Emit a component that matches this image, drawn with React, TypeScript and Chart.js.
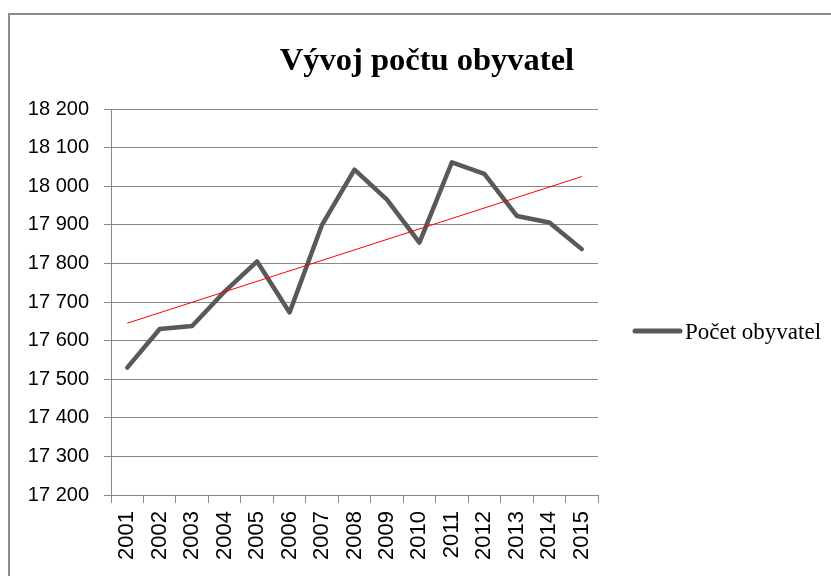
import React, { useEffect, useRef } from "react";
import { Chart, registerables } from "chart.js";

Chart.register(...registerables);

const years = ["2001","2002","2003","2004","2005","2006","2007","2008","2009","2010","2011","2012","2013","2014","2015"];
const population = [17530, 17630, 17638, 17727, 17805, 17673, 17900, 18043, 17965, 17854, 18062, 18032, 17923, 17906, 17837];
const trendEnds = [17645, 18025];
const seriesLabel = "Počet obyvatel";
const chartTitle = "Vývoj počtu obyvatel";
const yMin = 17200;
const yMax = 18200;
const yStep = 100;

const trendData = years.map((_, i) => (i === 0 ? trendEnds[0] : i === years.length - 1 ? trendEnds[1] : null));

const fmt = (v: number) => String(v).replace(/\B(?=(\d{3})+(?!\d))/g, " ");

const LINE = "#595959";
const GRID = "#888888";

const decor = {
  id: "decor",
  beforeDraw(chart: any) {
    const ctx = chart.ctx;
    ctx.save();
    ctx.fillStyle = "#ffffff";
    ctx.fillRect(0, 0, chart.width, chart.height);
    ctx.restore();
  },
  afterDraw(chart: any) {
    const ctx = chart.ctx;
    ctx.save();
    // outer frame
    ctx.strokeStyle = "#8c8c8c";
    ctx.lineWidth = 2;
    ctx.strokeRect(9, 14, 900, 700);
    // title
    ctx.fillStyle = "#000000";
    ctx.font = 'bold 32.5px "Liberation Serif", "Times New Roman", serif';
    ctx.textAlign = "center";
    ctx.textBaseline = "alphabetic";
    ctx.fillText(chartTitle, 427, 70);
    // legend
    const ds = chart.data.datasets[1];
    ctx.strokeStyle = ds.borderColor;
    ctx.lineWidth = 5;
    ctx.lineCap = "round";
    ctx.beginPath();
    ctx.moveTo(635, 331);
    ctx.lineTo(680, 331);
    ctx.stroke();
    ctx.font = '23px "Liberation Serif", "Times New Roman", serif';
    ctx.textAlign = "left";
    ctx.fillText(ds.label, 685, 339);
    ctx.restore();
  },
};

export default function App() {
  const ref = useRef<HTMLCanvasElement>(null);
  useEffect(() => {
    if (!ref.current) return;
    const chart = new Chart(ref.current, {
      type: "line",
      data: {
        labels: years,
        datasets: [
          {
            label: "Lineární (Počet obyvatel)",
            data: trendData,
            borderColor: "#ff0000",
            borderWidth: 1,
            pointRadius: 0,
            spanGaps: true,
            fill: false,
          },
          {
            label: seriesLabel,
            data: population,
            borderColor: LINE,
            borderWidth: 4.5,
            borderJoinStyle: "round",
            borderCapStyle: "round",
            pointRadius: 0,
            tension: 0,
            fill: false,
          },
        ],
      },
      options: {
        responsive: false,
        animation: false,
        layout: { padding: { left: 0, right: 233, top: 109, bottom: 0 } },
        plugins: {
          legend: { display: false },
          title: { display: false },
          tooltip: { enabled: false },
        },
        scales: {
          x: {
            type: "category",
            offset: true,
            afterFit: (s: any) => { s.height = 81; },
            grid: {
              display: true,
              offset: true,
              drawOnChartArea: false,
              drawTicks: true,
              tickLength: 8,
              color: GRID,
            },
            border: { display: true, color: GRID, width: 1 },
            ticks: {
              minRotation: 90,
              maxRotation: 90,
              autoSkip: false,
              padding: 8,
              color: "#000000",
              font: { family: '"Liberation Sans", Arial, sans-serif', size: 22 },
            },
          },
          y: {
            min: yMin,
            max: yMax,
            afterFit: (s: any) => { s.width = 111; },
            grid: { color: GRID, lineWidth: 1, tickLength: 7, drawTicks: true },
            border: { display: true, color: GRID, width: 1 },
            ticks: {
              stepSize: yStep,
              padding: 15,
              color: "#000000",
              font: { family: '"Liberation Sans", Arial, sans-serif', size: 20 },
              callback: (v: any) => fmt(Number(v)),
            },
          },
        },
      },
      plugins: [decor],
    });
    return () => chart.destroy();
  }, []);
  return (
    <div style={{ position: "absolute", left: 0, top: 0, width: 831, height: 576, background: "#fff" }}>
      <canvas ref={ref} width={831} height={576} style={{ display: "block" }} />
    </div>
  );
}
